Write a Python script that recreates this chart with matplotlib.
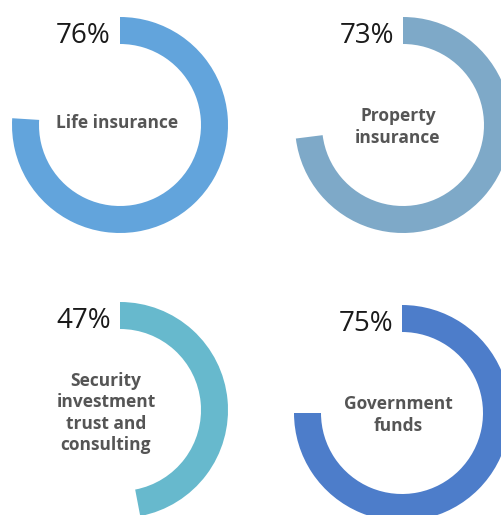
import matplotlib
matplotlib.use("Agg")
import matplotlib.pyplot as plt
from matplotlib.patches import Wedge

# data
labels = ["Life insurance", "Property\ninsurance",
          "Security\ninvestment\ntrust and\nconsulting", "Government\nfunds"]
percents = [76, 73, 47, 75]
colors = ["#62A4DC", "#7EA9C8", "#67B9CD", "#4D7DCA"]

# ring layout in pixel units
centers = [(120, 125), (403, 125), (120, 410), (402, 413)]
label_off = [(-3, -2), (-5, 2), (-14, 3), (-4, 2)]
R = 108
W = 27

fig = plt.figure(figsize=(5.02, 5.15), dpi=100)
ax = fig.add_axes([0, 0, 1, 1])
ax.set_xlim(0, 502)
ax.set_ylim(515, 0)
ax.set_aspect("equal")
ax.axis("off")

for (cx, cy), p, c, lab, (dx, dy) in zip(centers, percents, colors, labels, label_off):
    # ring starts at 12 o'clock and runs clockwise
    # y axis is flipped, so clockwise on screen is increasing angle here
    ax.add_patch(Wedge((cx, cy), R, -90, -90 + 360 * p / 100, width=W,
                       facecolor=c, edgecolor="none"))
    ax.text(cx - 9, cy - R + 26, f"{p}%", ha="right", va="baseline",
            fontsize=20, family=["Open Sans", "DejaVu Sans"],
            fontweight="normal", color="#1a1a1a")
    ax.text(cx + dx, cy + dy, lab, ha="center", va="center", fontsize=12.5,
            family=["Open Sans", "DejaVu Sans"], fontweight="bold",
            color="#555555", linespacing=1.22)

fig.savefig("out.png", dpi=100)
